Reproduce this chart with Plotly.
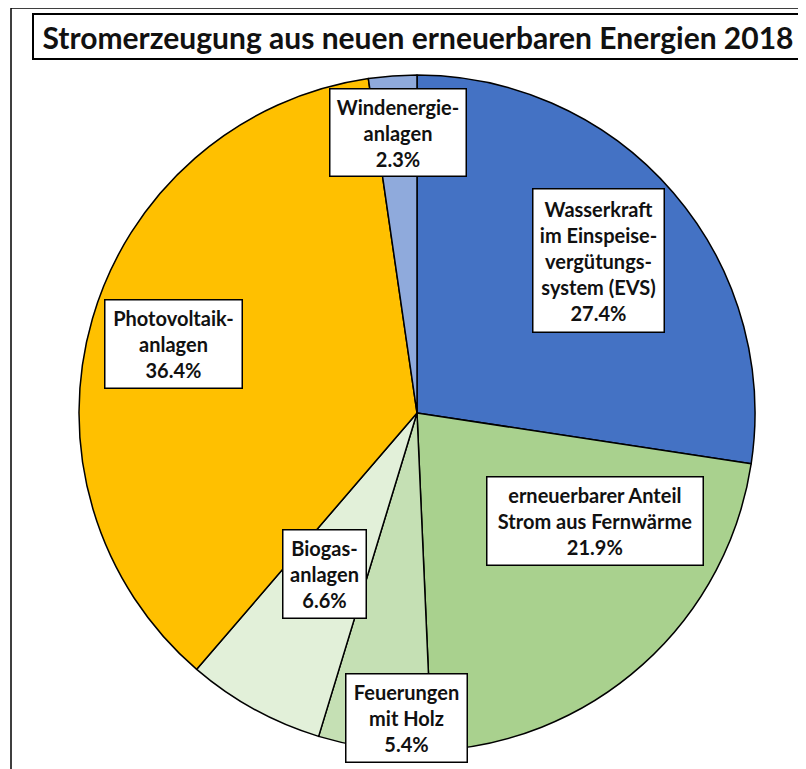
import plotly.graph_objects as go

# page has 8px body margin: figure drawn from (8, 8)
OX, OY = 8, 8
W, H = 806 - OX, 769 - OY

title = "Stromerzeugung aus neuen erneuerbaren Energien 2018"
categories = ["Wasserkraft im Einspeisevergütungssystem (EVS)",
              "erneuerbarer Anteil Strom aus Fernwärme",
              "Feuerungen mit Holz",
              "Biogasanlagen",
              "Photovoltaikanlagen",
              "Windenergieanlagen"]
values = [27.4, 21.9, 5.4, 6.6, 36.4, 2.3]
label_texts = ["Wasserkraft<br>im Einspeise-<br>vergütungs-<br>system (EVS)",
               "erneuerbarer Anteil<br>Strom aus Fernwärme",
               "Feuerungen<br>mit Holz",
               "Biogas-<br>anlagen",
               "Photovoltaik-<br>anlagen",
               "Windenergie-<br>anlagen"]
colors = ["#4472C4", "#A9D18E", "#C5E0B4", "#E2F0D9", "#FFC000", "#8FAADC"]

# label box layout in page pixels (centre x, centre y, width, height)
boxes = [(598, 260, 132, 144),
         (594.5, 520.5, 217, 89),
         (406, 717.5, 122, 89),
         (324, 573.5, 84, 89),
         (173, 343.5, 138, 89),
         (397.5, 133, 137, 88)]

FONT = "Lato"
TXT = "#111111"


def px(x):
    return (x - OX) / W


def py(y):
    return 1 - (y - OY) / H


cx, cy, r = 417, 413, 338

fig = go.Figure(go.Pie(
    labels=categories, values=values, sort=False, direction="clockwise",
    rotation=0, textinfo="none", hoverinfo="label+percent",
    marker=dict(colors=colors, line=dict(color="#000000", width=1.5)),
    domain=dict(x=[px(cx - r), px(cx + r)], y=[py(cy + r), py(cy - r)]),
    showlegend=False,
))

annotations = []
for txt, v, (bx, by, bw, bh) in zip(label_texts, values, boxes):
    annotations.append(dict(
        text=f"{txt}<br>{v:.1f}%", x=px(bx), y=py(by), xref="paper", yref="paper",
        xanchor="center", yanchor="middle", showarrow=False,
        width=bw - 2, height=bh - 2, align="center", valign="middle",
        bgcolor="#FFFFFF", bordercolor="#000000", borderwidth=1.5, borderpad=0,
        font=dict(family=FONT, size=20, color=TXT, weight="bold"),
    ))

# title box
annotations.append(dict(
    text=title, x=px(418), y=py(36.5), xref="paper", yref="paper",
    xanchor="center", yanchor="middle", showarrow=False,
    width=768, height=43, align="center", valign="middle",
    bgcolor="#FFFFFF", bordercolor="#000000", borderwidth=2, borderpad=0,
    font=dict(family=FONT, size=30, color=TXT, weight="bold"),
))

shapes = [dict(type="rect", xref="paper", yref="paper",
               x0=px(11), x1=px(830), y0=py(800), y1=py(8),
               line=dict(color="#000000", width=1.5), fillcolor="rgba(0,0,0,0)",
               layer="below")]

fig.update_layout(
    width=W, height=H, margin=dict(l=0, r=0, t=0, b=0),
    paper_bgcolor="#FFFFFF", plot_bgcolor="#FFFFFF",
    annotations=annotations, shapes=shapes,
)

fig.write_html("out.html")
